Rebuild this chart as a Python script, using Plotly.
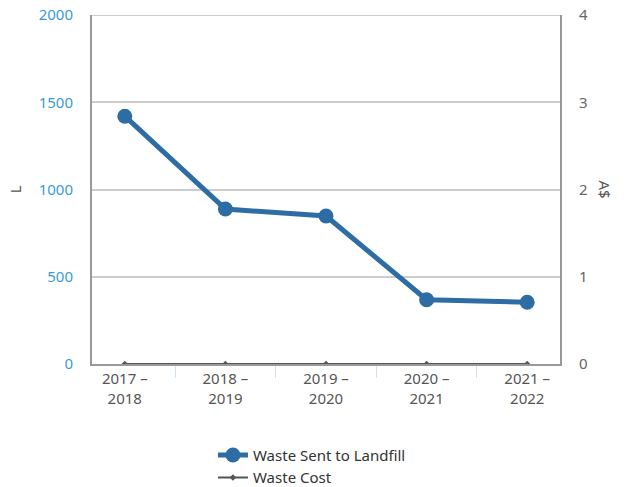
import plotly.graph_objects as go

years = ["2017 –<br>2018", "2018 –<br>2019", "2019 –<br>2020", "2020 –<br>2021", "2021 –<br>2022"]
landfill = [1420, 888, 848, 368, 354]
cost = [0, 0, 0, 0, 0]
y_max = 2000

fig = go.Figure()
fig.add_trace(go.Scatter(
    x=years, y=landfill, name="Waste Sent to Landfill", mode="lines+markers",
    line=dict(color="#2e6ca4", width=5), marker=dict(size=15, color="#2e6ca4"),
))
fig.add_trace(go.Scatter(
    x=years, y=cost, name="Waste Cost", mode="lines+markers", yaxis="y2",
    line=dict(color="#555555", width=2), marker=dict(size=5, color="#555555", symbol="diamond"),
))

font = "Noto Sans"
fig.update_layout(
    width=629, height=487,
    margin=dict(l=92, r=69, t=15, b=123, autoexpand=False),
    plot_bgcolor="white", paper_bgcolor="white",
    font=dict(family=font, size=15, color="#555555"),
    xaxis=dict(
        showgrid=False, showline=True, linecolor="#999999", linewidth=2,
        ticks="outside", tickson="boundaries", ticklen=12, tickcolor="#cfe0ef",
        tickfont=dict(size=15, color="#555555"), automargin=False,
    ),
    yaxis=dict(
        range=[0, y_max], dtick=500, showgrid=True, gridcolor="#cccccc", gridwidth=2,
        showline=True, linecolor="#999999", linewidth=2, zeroline=False,
        tickfont=dict(size=15, color="#3a9ad9"), ticklabelstandoff=14, automargin=False,
        ticklabeloverflow="allow",
    ),
    yaxis2=dict(
        overlaying="y", side="right", range=[0, 4], dtick=1, showgrid=False,
        showline=True, linecolor="#999999", linewidth=2, zeroline=False,
        tickfont=dict(size=15, color="#666666"), ticklabelstandoff=14, automargin=False,
        ticklabeloverflow="allow",
    ),
    legend=dict(
        orientation="v", x=0.47, xanchor="center", y=-0.214, yanchor="top",
        font=dict(size=15, color="#333333"), tracegroupgap=0, itemwidth=30,
    ),
    showlegend=True,
)
# plotly drops the gridline sitting on the top edge, so draw it back
fig.add_hline(y=y_max, line=dict(color="#cccccc", width=2), layer="below")
fig.add_annotation(
    text="L", xref="paper", yref="paper", x=-0.165, xanchor="center", y=0.5, yanchor="middle",
    showarrow=False, textangle=-90, font=dict(size=15, color="#555555"),
)
fig.add_annotation(
    text="A$", xref="paper", yref="paper", x=1.0, xshift=45, xanchor="center", y=0.5, yanchor="middle",
    showarrow=False, textangle=90, font=dict(size=15, color="#555555"),
)

# drop the browser's default body margin so the figure sits at the page corner
fig.write_html("out.html", config={"displayModeBar": False},
               post_script="document.body.style.margin = '0';")
